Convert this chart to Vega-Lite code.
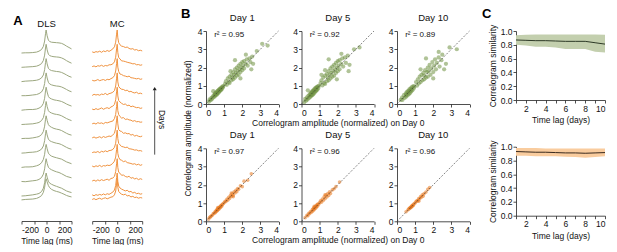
{
"$schema":"https://vega.github.io/schema/vega-lite/v6.json",
"background":"white",
"padding":{"left":12.5,"top":8,"right":0,"bottom":0},
"config":{
 "font":"Liberation Sans",
 "view":{"stroke":null},
 "axis":{"grid":false,"tickSize":3,"labelFontSize":8.5,"titleFontSize":8.5,"titleFontWeight":"normal","domainColor":"#222","tickColor":"#222","labelColor":"#111","titleColor":"#111","labelPadding":1,"titlePadding":3,"domainWidth":0.8,"tickWidth":0.8,"labelFont":"Liberation Sans","titleFont":"Liberation Sans","titleLimit":300}
},
"datasets":{
"diag":[{"x":0,"y":0},{"x":4,"y":4}],
"sim":[
{"g":"D","t":1,"m":0.87,"lo":0.8,"hi":0.94},{"g":"D","t":2,"m":0.865,"lo":0.79,"hi":0.945},{"g":"D","t":3,"m":0.86,"lo":0.77,"hi":0.95},{"g":"D","t":4,"m":0.86,"lo":0.77,"hi":0.95},{"g":"D","t":5,"m":0.855,"lo":0.76,"hi":0.95},{"g":"D","t":6,"m":0.85,"lo":0.74,"hi":0.95},{"g":"D","t":7,"m":0.85,"lo":0.74,"hi":0.95},{"g":"D","t":8,"m":0.85,"lo":0.74,"hi":0.95},{"g":"D","t":9,"m":0.83,"lo":0.7,"hi":0.95},{"g":"D","t":10,"m":0.81,"lo":0.69,"hi":0.945},
{"g":"M","t":1,"m":0.93,"lo":0.87,"hi":0.98},{"g":"M","t":2,"m":0.925,"lo":0.87,"hi":0.98},{"g":"M","t":3,"m":0.92,"lo":0.86,"hi":0.98},{"g":"M","t":4,"m":0.92,"lo":0.86,"hi":0.975},{"g":"M","t":5,"m":0.915,"lo":0.86,"hi":0.975},{"g":"M","t":6,"m":0.91,"lo":0.855,"hi":0.975},{"g":"M","t":7,"m":0.91,"lo":0.85,"hi":0.975},{"g":"M","t":8,"m":0.905,"lo":0.84,"hi":0.975},{"g":"M","t":9,"m":0.91,"lo":0.85,"hi":0.975},{"g":"M","t":10,"m":0.915,"lo":0.86,"hi":0.975}
],
"sc":[
{"g":"D","k":1,"x":0.15,"y":0.12},{"g":"D","k":1,"x":0.2,"y":0.25},{"g":"D","k":1,"x":0.25,"y":0.2},{"g":"D","k":1,"x":0.3,"y":0.33},{"g":"D","k":1,"x":0.32,"y":0.26},{"g":"D","k":1,"x":0.38,"y":0.42},{"g":"D","k":1,"x":0.4,"y":0.35},{"g":"D","k":1,"x":0.45,"y":0.5},{"g":"D","k":1,"x":0.47,"y":0.4},{"g":"D","k":1,"x":0.5,"y":0.58},{"g":"D","k":1,"x":0.52,"y":0.46},{"g":"D","k":1,"x":0.55,"y":0.62},{"g":"D","k":1,"x":0.58,"y":0.5},{"g":"D","k":1,"x":0.6,"y":0.68},{"g":"D","k":1,"x":0.62,"y":0.55},{"g":"D","k":1,"x":0.65,"y":0.72},{"g":"D","k":1,"x":0.68,"y":0.6},{"g":"D","k":1,"x":0.7,"y":0.78},{"g":"D","k":1,"x":0.72,"y":0.66},{"g":"D","k":1,"x":0.75,"y":0.82},{"g":"D","k":1,"x":0.78,"y":0.72},{"g":"D","k":1,"x":0.8,"y":0.86},{"g":"D","k":1,"x":0.82,"y":0.76},{"g":"D","k":1,"x":0.85,"y":0.9},{"g":"D","k":1,"x":0.88,"y":0.82},{"g":"D","k":1,"x":0.9,"y":0.95},{"g":"D","k":1,"x":0.93,"y":0.9},{"g":"D","k":1,"x":0.96,"y":0.98},{"g":"D","k":1,"x":0.6,"y":0.6},{"g":"D","k":1,"x":0.7,"y":0.7},{"g":"D","k":1,"x":0.5,"y":0.52},{"g":"D","k":1,"x":0.8,"y":0.8},
{"g":"D","k":1,"x":1.05,"y":1.1},{"g":"D","k":1,"x":1.1,"y":1.25},{"g":"D","k":1,"x":1.15,"y":1.05},{"g":"D","k":1,"x":1.2,"y":1.4},{"g":"D","k":1,"x":1.25,"y":1.2},{"g":"D","k":1,"x":1.3,"y":1.5},{"g":"D","k":1,"x":1.3,"y":1.15},{"g":"D","k":1,"x":1.4,"y":1.6},{"g":"D","k":1,"x":1.4,"y":1.3},{"g":"D","k":1,"x":1.45,"y":1.45},{"g":"D","k":1,"x":1.5,"y":1.75},{"g":"D","k":1,"x":1.5,"y":1.35},{"g":"D","k":1,"x":1.55,"y":1.6},{"g":"D","k":1,"x":1.6,"y":1.9},{"g":"D","k":1,"x":1.6,"y":1.45},{"g":"D","k":1,"x":1.65,"y":1.7},{"g":"D","k":1,"x":1.7,"y":2.0},{"g":"D","k":1,"x":1.7,"y":1.55},{"g":"D","k":1,"x":1.75,"y":1.8},{"g":"D","k":1,"x":1.8,"y":2.1},{"g":"D","k":1,"x":1.8,"y":1.6},{"g":"D","k":1,"x":1.85,"y":1.9},{"g":"D","k":1,"x":1.9,"y":2.2},{"g":"D","k":1,"x":1.9,"y":1.75},{"g":"D","k":1,"x":1.95,"y":2.0},{"g":"D","k":1,"x":2.0,"y":2.3},{"g":"D","k":1,"x":2.0,"y":1.85},{"g":"D","k":1,"x":2.05,"y":2.1},{"g":"D","k":1,"x":2.1,"y":2.35},{"g":"D","k":1,"x":2.1,"y":1.95},{"g":"D","k":1,"x":2.2,"y":2.2},{"g":"D","k":1,"x":2.25,"y":2.45},{"g":"D","k":1,"x":2.3,"y":2.1},{"g":"D","k":1,"x":2.4,"y":2.5},{"g":"D","k":1,"x":2.45,"y":2.3},{"g":"D","k":1,"x":2.55,"y":2.6},{"g":"D","k":1,"x":1.35,"y":1.8},{"g":"D","k":1,"x":1.9,"y":1.4},{"g":"D","k":1,"x":2.2,"y":2.7},{"g":"D","k":1,"x":2.6,"y":2.2},{"g":"D","k":1,"x":2.8,"y":2.9},{"g":"D","k":1,"x":3.1,"y":3.3},{"g":"D","k":1,"x":0.4,"y":0.7},{"g":"D","k":1,"x":1.6,"y":2.4},{"g":"D","k":1,"x":2.5,"y":1.9},{"g":"D","k":1,"x":3.4,"y":3.2},
{"g":"D","k":5,"x":0.15,"y":0.1},{"g":"D","k":5,"x":0.2,"y":0.28},{"g":"D","k":5,"x":0.25,"y":0.18},{"g":"D","k":5,"x":0.3,"y":0.36},{"g":"D","k":5,"x":0.33,"y":0.24},{"g":"D","k":5,"x":0.38,"y":0.45},{"g":"D","k":5,"x":0.4,"y":0.32},{"g":"D","k":5,"x":0.45,"y":0.53},{"g":"D","k":5,"x":0.48,"y":0.38},{"g":"D","k":5,"x":0.5,"y":0.6},{"g":"D","k":5,"x":0.53,"y":0.44},{"g":"D","k":5,"x":0.55,"y":0.65},{"g":"D","k":5,"x":0.58,"y":0.48},{"g":"D","k":5,"x":0.6,"y":0.7},{"g":"D","k":5,"x":0.63,"y":0.52},{"g":"D","k":5,"x":0.65,"y":0.75},{"g":"D","k":5,"x":0.68,"y":0.57},{"g":"D","k":5,"x":0.7,"y":0.8},{"g":"D","k":5,"x":0.73,"y":0.63},{"g":"D","k":5,"x":0.75,"y":0.85},{"g":"D","k":5,"x":0.78,"y":0.7},{"g":"D","k":5,"x":0.8,"y":0.9},{"g":"D","k":5,"x":0.83,"y":0.74},{"g":"D","k":5,"x":0.85,"y":0.93},{"g":"D","k":5,"x":0.88,"y":0.8},{"g":"D","k":5,"x":0.9,"y":0.97},{"g":"D","k":5,"x":0.93,"y":0.88},{"g":"D","k":5,"x":0.96,"y":1.0},{"g":"D","k":5,"x":0.6,"y":0.6},{"g":"D","k":5,"x":0.7,"y":0.7},{"g":"D","k":5,"x":0.5,"y":0.5},{"g":"D","k":5,"x":0.8,"y":0.8},
{"g":"D","k":5,"x":1.05,"y":1.15},{"g":"D","k":5,"x":1.1,"y":1.3},{"g":"D","k":5,"x":1.15,"y":1.02},{"g":"D","k":5,"x":1.2,"y":1.45},{"g":"D","k":5,"x":1.25,"y":1.15},{"g":"D","k":5,"x":1.3,"y":1.55},{"g":"D","k":5,"x":1.3,"y":1.1},{"g":"D","k":5,"x":1.4,"y":1.65},{"g":"D","k":5,"x":1.4,"y":1.25},{"g":"D","k":5,"x":1.45,"y":1.45},{"g":"D","k":5,"x":1.5,"y":1.8},{"g":"D","k":5,"x":1.5,"y":1.3},{"g":"D","k":5,"x":1.55,"y":1.6},{"g":"D","k":5,"x":1.6,"y":1.95},{"g":"D","k":5,"x":1.6,"y":1.4},{"g":"D","k":5,"x":1.65,"y":1.7},{"g":"D","k":5,"x":1.7,"y":2.05},{"g":"D","k":5,"x":1.7,"y":1.5},{"g":"D","k":5,"x":1.75,"y":1.8},{"g":"D","k":5,"x":1.8,"y":2.15},{"g":"D","k":5,"x":1.8,"y":1.55},{"g":"D","k":5,"x":1.85,"y":1.9},{"g":"D","k":5,"x":1.9,"y":2.25},{"g":"D","k":5,"x":1.9,"y":1.7},{"g":"D","k":5,"x":1.95,"y":2.0},{"g":"D","k":5,"x":2.0,"y":2.35},{"g":"D","k":5,"x":2.0,"y":1.8},{"g":"D","k":5,"x":2.05,"y":2.1},{"g":"D","k":5,"x":2.1,"y":2.4},{"g":"D","k":5,"x":2.1,"y":1.9},{"g":"D","k":5,"x":2.2,"y":2.2},{"g":"D","k":5,"x":2.25,"y":2.5},{"g":"D","k":5,"x":2.3,"y":2.05},{"g":"D","k":5,"x":2.4,"y":2.55},{"g":"D","k":5,"x":2.45,"y":2.25},{"g":"D","k":5,"x":2.55,"y":2.65},{"g":"D","k":5,"x":1.3,"y":1.85},{"g":"D","k":5,"x":1.95,"y":1.35},{"g":"D","k":5,"x":2.2,"y":2.75},{"g":"D","k":5,"x":2.65,"y":2.15},{"g":"D","k":5,"x":2.9,"y":3.0},{"g":"D","k":5,"x":3.2,"y":3.1},{"g":"D","k":5,"x":0.35,"y":0.75},{"g":"D","k":5,"x":1.5,"y":2.45},{"g":"D","k":5,"x":2.6,"y":1.8},{"g":"D","k":5,"x":1.1,"y":1.6},
{"g":"D","k":10,"x":0.2,"y":0.22},{"g":"D","k":10,"x":0.28,"y":0.35},{"g":"D","k":10,"x":0.3,"y":0.22},{"g":"D","k":10,"x":0.38,"y":0.48},{"g":"D","k":10,"x":0.42,"y":0.33},{"g":"D","k":10,"x":0.48,"y":0.58},{"g":"D","k":10,"x":0.5,"y":0.4},{"g":"D","k":10,"x":0.55,"y":0.66},{"g":"D","k":10,"x":0.58,"y":0.47},{"g":"D","k":10,"x":0.62,"y":0.72},{"g":"D","k":10,"x":0.65,"y":0.54},{"g":"D","k":10,"x":0.68,"y":0.8},{"g":"D","k":10,"x":0.72,"y":0.6},{"g":"D","k":10,"x":0.75,"y":0.86},{"g":"D","k":10,"x":0.78,"y":0.68},{"g":"D","k":10,"x":0.82,"y":0.92},{"g":"D","k":10,"x":0.85,"y":0.75},{"g":"D","k":10,"x":0.9,"y":0.98},{"g":"D","k":10,"x":0.92,"y":0.85},{"g":"D","k":10,"x":0.6,"y":0.6},{"g":"D","k":10,"x":0.7,"y":0.7},{"g":"D","k":10,"x":0.8,"y":0.8},{"g":"D","k":10,"x":0.5,"y":0.5},{"g":"D","k":10,"x":0.95,"y":0.95},
{"g":"D","k":10,"x":1.05,"y":1.2},{"g":"D","k":10,"x":1.1,"y":1.0},{"g":"D","k":10,"x":1.15,"y":1.35},{"g":"D","k":10,"x":1.2,"y":1.12},{"g":"D","k":10,"x":1.25,"y":1.5},{"g":"D","k":10,"x":1.3,"y":1.2},{"g":"D","k":10,"x":1.35,"y":1.6},{"g":"D","k":10,"x":1.4,"y":1.3},{"g":"D","k":10,"x":1.45,"y":1.7},{"g":"D","k":10,"x":1.5,"y":1.35},{"g":"D","k":10,"x":1.5,"y":1.55},{"g":"D","k":10,"x":1.55,"y":1.85},{"g":"D","k":10,"x":1.6,"y":1.45},{"g":"D","k":10,"x":1.65,"y":1.75},{"g":"D","k":10,"x":1.7,"y":2.0},{"g":"D","k":10,"x":1.7,"y":1.5},{"g":"D","k":10,"x":1.75,"y":1.8},{"g":"D","k":10,"x":1.8,"y":2.15},{"g":"D","k":10,"x":1.85,"y":1.6},{"g":"D","k":10,"x":1.9,"y":1.95},{"g":"D","k":10,"x":1.95,"y":2.3},{"g":"D","k":10,"x":2.0,"y":1.75},{"g":"D","k":10,"x":2.05,"y":2.1},{"g":"D","k":10,"x":2.1,"y":2.45},{"g":"D","k":10,"x":2.15,"y":1.9},{"g":"D","k":10,"x":2.2,"y":2.25},{"g":"D","k":10,"x":2.3,"y":2.55},{"g":"D","k":10,"x":2.35,"y":2.05},{"g":"D","k":10,"x":2.45,"y":2.4},{"g":"D","k":10,"x":2.5,"y":2.7},{"g":"D","k":10,"x":1.3,"y":1.9},{"g":"D","k":10,"x":2.0,"y":1.4},{"g":"D","k":10,"x":2.3,"y":2.85},{"g":"D","k":10,"x":2.7,"y":2.2},{"g":"D","k":10,"x":2.9,"y":3.1},{"g":"D","k":10,"x":3.3,"y":3.0},{"g":"D","k":10,"x":1.6,"y":2.5},{"g":"D","k":10,"x":2.6,"y":1.9},
{"g":"M","k":1,"x":0.15,"y":0.12},{"g":"M","k":1,"x":0.2,"y":0.22},{"g":"M","k":1,"x":0.25,"y":0.24},{"g":"M","k":1,"x":0.3,"y":0.3},{"g":"M","k":1,"x":0.35,"y":0.33},{"g":"M","k":1,"x":0.4,"y":0.42},{"g":"M","k":1,"x":0.45,"y":0.44},{"g":"M","k":1,"x":0.5,"y":0.52},{"g":"M","k":1,"x":0.52,"y":0.47},{"g":"M","k":1,"x":0.55,"y":0.58},{"g":"M","k":1,"x":0.58,"y":0.55},{"g":"M","k":1,"x":0.6,"y":0.64},{"g":"M","k":1,"x":0.62,"y":0.58},{"g":"M","k":1,"x":0.65,"y":0.68},{"g":"M","k":1,"x":0.68,"y":0.64},{"g":"M","k":1,"x":0.7,"y":0.74},{"g":"M","k":1,"x":0.72,"y":0.68},{"g":"M","k":1,"x":0.75,"y":0.78},{"g":"M","k":1,"x":0.78,"y":0.74},{"g":"M","k":1,"x":0.8,"y":0.84},{"g":"M","k":1,"x":0.82,"y":0.78},{"g":"M","k":1,"x":0.85,"y":0.88},{"g":"M","k":1,"x":0.88,"y":0.84},{"g":"M","k":1,"x":0.9,"y":0.93},{"g":"M","k":1,"x":0.95,"y":0.96},{"g":"M","k":1,"x":1.0,"y":1.02},{"g":"M","k":1,"x":1.05,"y":1.1},{"g":"M","k":1,"x":1.1,"y":1.08},{"g":"M","k":1,"x":1.15,"y":1.2},{"g":"M","k":1,"x":1.2,"y":1.16},{"g":"M","k":1,"x":1.25,"y":1.32},{"g":"M","k":1,"x":1.3,"y":1.25},{"g":"M","k":1,"x":1.35,"y":1.42},{"g":"M","k":1,"x":1.4,"y":1.36},{"g":"M","k":1,"x":1.45,"y":1.5},{"g":"M","k":1,"x":1.5,"y":1.42},{"g":"M","k":1,"x":1.55,"y":1.62},{"g":"M","k":1,"x":1.6,"y":1.55},{"g":"M","k":1,"x":1.65,"y":1.7},{"g":"M","k":1,"x":1.7,"y":1.62},{"g":"M","k":1,"x":1.75,"y":1.8},{"g":"M","k":1,"x":1.8,"y":1.75},{"g":"M","k":1,"x":1.9,"y":1.95},{"g":"M","k":1,"x":2.0,"y":1.9},{"g":"M","k":1,"x":2.1,"y":2.2},{"g":"M","k":1,"x":2.3,"y":2.25},{"g":"M","k":1,"x":1.4,"y":1.55},{"g":"M","k":1,"x":1.5,"y":1.35},{"g":"M","k":1,"x":0.65,"y":0.75},{"g":"M","k":1,"x":2.5,"y":2.6},
{"g":"M","k":5,"x":0.2,"y":0.2},{"g":"M","k":5,"x":0.3,"y":0.33},{"g":"M","k":5,"x":0.35,"y":0.3},{"g":"M","k":5,"x":0.4,"y":0.44},{"g":"M","k":5,"x":0.45,"y":0.42},{"g":"M","k":5,"x":0.5,"y":0.54},{"g":"M","k":5,"x":0.55,"y":0.5},{"g":"M","k":5,"x":0.6,"y":0.65},{"g":"M","k":5,"x":0.62,"y":0.57},{"g":"M","k":5,"x":0.65,"y":0.7},{"g":"M","k":5,"x":0.68,"y":0.62},{"g":"M","k":5,"x":0.7,"y":0.75},{"g":"M","k":5,"x":0.72,"y":0.68},{"g":"M","k":5,"x":0.75,"y":0.8},{"g":"M","k":5,"x":0.78,"y":0.72},{"g":"M","k":5,"x":0.8,"y":0.85},{"g":"M","k":5,"x":0.82,"y":0.78},{"g":"M","k":5,"x":0.85,"y":0.9},{"g":"M","k":5,"x":0.88,"y":0.83},{"g":"M","k":5,"x":0.9,"y":0.95},{"g":"M","k":5,"x":0.95,"y":0.93},{"g":"M","k":5,"x":1.0,"y":1.03},{"g":"M","k":5,"x":1.05,"y":1.12},{"g":"M","k":5,"x":1.1,"y":1.05},{"g":"M","k":5,"x":1.15,"y":1.22},{"g":"M","k":5,"x":1.2,"y":1.14},{"g":"M","k":5,"x":1.25,"y":1.34},{"g":"M","k":5,"x":1.3,"y":1.24},{"g":"M","k":5,"x":1.35,"y":1.44},{"g":"M","k":5,"x":1.4,"y":1.33},{"g":"M","k":5,"x":1.45,"y":1.52},{"g":"M","k":5,"x":1.5,"y":1.42},{"g":"M","k":5,"x":1.55,"y":1.62},{"g":"M","k":5,"x":1.6,"y":1.52},{"g":"M","k":5,"x":1.7,"y":1.72},{"g":"M","k":5,"x":1.8,"y":1.78},{"g":"M","k":5,"x":1.9,"y":1.9},{"g":"M","k":5,"x":1.3,"y":1.45},{"g":"M","k":5,"x":0.7,"y":0.82},{"g":"M","k":5,"x":2.1,"y":2.15},
{"g":"M","k":10,"x":0.6,"y":0.62},{"g":"M","k":10,"x":0.65,"y":0.68},{"g":"M","k":10,"x":0.7,"y":0.7},{"g":"M","k":10,"x":0.72,"y":0.76},{"g":"M","k":10,"x":0.75,"y":0.74},{"g":"M","k":10,"x":0.78,"y":0.8},{"g":"M","k":10,"x":0.8,"y":0.78},{"g":"M","k":10,"x":0.82,"y":0.85},{"g":"M","k":10,"x":0.85,"y":0.83},{"g":"M","k":10,"x":0.88,"y":0.9},{"g":"M","k":10,"x":0.9,"y":0.88},{"g":"M","k":10,"x":0.95,"y":0.97},{"g":"M","k":10,"x":1.0,"y":1.0},{"g":"M","k":10,"x":1.05,"y":1.08},{"g":"M","k":10,"x":1.1,"y":1.12},{"g":"M","k":10,"x":1.15,"y":1.13},{"g":"M","k":10,"x":1.2,"y":1.25},{"g":"M","k":10,"x":1.25,"y":1.22},{"g":"M","k":10,"x":1.3,"y":1.35},{"g":"M","k":10,"x":1.35,"y":1.32},{"g":"M","k":10,"x":1.4,"y":1.45},{"g":"M","k":10,"x":1.5,"y":1.52},{"g":"M","k":10,"x":1.6,"y":1.6},{"g":"M","k":10,"x":1.7,"y":1.75},{"g":"M","k":10,"x":0.5,"y":0.52},{"g":"M","k":10,"x":1.2,"y":1.1},{"g":"M","k":10,"x":1.45,"y":1.38},{"g":"M","k":10,"x":1.8,"y":1.85}
],
"tr":[
{"g":"D","d":1,"t":-200,"v":0},{"g":"D","d":1,"t":-170,"v":0.02},{"g":"D","d":1,"t":-140,"v":0.03},{"g":"D","d":1,"t":-110,"v":0.04},{"g":"D","d":1,"t":-80,"v":0.07},{"g":"D","d":1,"t":-60,"v":0.12},{"g":"D","d":1,"t":-40,"v":0.2},{"g":"D","d":1,"t":-25,"v":0.36},{"g":"D","d":1,"t":-15,"v":0.6},{"g":"D","d":1,"t":-8,"v":0.88},{"g":"D","d":1,"t":-3,"v":1},{"g":"D","d":1,"t":5,"v":0.85},{"g":"D","d":1,"t":15,"v":0.68},{"g":"D","d":1,"t":25,"v":0.58},{"g":"D","d":1,"t":40,"v":0.5},{"g":"D","d":1,"t":60,"v":0.44},{"g":"D","d":1,"t":80,"v":0.4},{"g":"D","d":1,"t":100,"v":0.37},{"g":"D","d":1,"t":120,"v":0.32},{"g":"D","d":1,"t":140,"v":0.27},{"g":"D","d":1,"t":160,"v":0.21},{"g":"D","d":1,"t":180,"v":0.17},{"g":"D","d":1,"t":200,"v":0.14},
{"g":"D","d":2,"t":-200,"v":0},{"g":"D","d":2,"t":-170,"v":0.01},{"g":"D","d":2,"t":-140,"v":0.03},{"g":"D","d":2,"t":-110,"v":0.05},{"g":"D","d":2,"t":-80,"v":0.08},{"g":"D","d":2,"t":-60,"v":0.11},{"g":"D","d":2,"t":-40,"v":0.19},{"g":"D","d":2,"t":-25,"v":0.34},{"g":"D","d":2,"t":-15,"v":0.58},{"g":"D","d":2,"t":-8,"v":0.86},{"g":"D","d":2,"t":-3,"v":1},{"g":"D","d":2,"t":5,"v":0.82},{"g":"D","d":2,"t":15,"v":0.64},{"g":"D","d":2,"t":25,"v":0.56},{"g":"D","d":2,"t":40,"v":0.51},{"g":"D","d":2,"t":60,"v":0.46},{"g":"D","d":2,"t":80,"v":0.42},{"g":"D","d":2,"t":100,"v":0.38},{"g":"D","d":2,"t":120,"v":0.34},{"g":"D","d":2,"t":140,"v":0.28},{"g":"D","d":2,"t":160,"v":0.22},{"g":"D","d":2,"t":180,"v":0.18},{"g":"D","d":2,"t":200,"v":0.15},
{"g":"D","d":3,"t":-200,"v":0.01},{"g":"D","d":3,"t":-170,"v":0},{"g":"D","d":3,"t":-140,"v":0.02},{"g":"D","d":3,"t":-110,"v":0.04},{"g":"D","d":3,"t":-80,"v":0.06},{"g":"D","d":3,"t":-60,"v":0.1},{"g":"D","d":3,"t":-40,"v":0.18},{"g":"D","d":3,"t":-25,"v":0.33},{"g":"D","d":3,"t":-15,"v":0.56},{"g":"D","d":3,"t":-8,"v":0.85},{"g":"D","d":3,"t":-3,"v":1},{"g":"D","d":3,"t":5,"v":0.8},{"g":"D","d":3,"t":15,"v":0.63},{"g":"D","d":3,"t":25,"v":0.57},{"g":"D","d":3,"t":40,"v":0.52},{"g":"D","d":3,"t":60,"v":0.47},{"g":"D","d":3,"t":80,"v":0.43},{"g":"D","d":3,"t":100,"v":0.4},{"g":"D","d":3,"t":120,"v":0.35},{"g":"D","d":3,"t":140,"v":0.29},{"g":"D","d":3,"t":160,"v":0.23},{"g":"D","d":3,"t":180,"v":0.2},{"g":"D","d":3,"t":200,"v":0.17},
{"g":"D","d":4,"t":-200,"v":0},{"g":"D","d":4,"t":-170,"v":0.02},{"g":"D","d":4,"t":-140,"v":0.02},{"g":"D","d":4,"t":-110,"v":0.03},{"g":"D","d":4,"t":-80,"v":0.07},{"g":"D","d":4,"t":-60,"v":0.11},{"g":"D","d":4,"t":-40,"v":0.2},{"g":"D","d":4,"t":-25,"v":0.35},{"g":"D","d":4,"t":-15,"v":0.57},{"g":"D","d":4,"t":-8,"v":0.87},{"g":"D","d":4,"t":-3,"v":1},{"g":"D","d":4,"t":5,"v":0.81},{"g":"D","d":4,"t":15,"v":0.62},{"g":"D","d":4,"t":25,"v":0.55},{"g":"D","d":4,"t":40,"v":0.49},{"g":"D","d":4,"t":60,"v":0.45},{"g":"D","d":4,"t":80,"v":0.42},{"g":"D","d":4,"t":100,"v":0.39},{"g":"D","d":4,"t":120,"v":0.36},{"g":"D","d":4,"t":140,"v":0.3},{"g":"D","d":4,"t":160,"v":0.24},{"g":"D","d":4,"t":180,"v":0.2},{"g":"D","d":4,"t":200,"v":0.16},
{"g":"D","d":5,"t":-200,"v":0},{"g":"D","d":5,"t":-170,"v":0.01},{"g":"D","d":5,"t":-140,"v":0.03},{"g":"D","d":5,"t":-110,"v":0.04},{"g":"D","d":5,"t":-80,"v":0.06},{"g":"D","d":5,"t":-60,"v":0.1},{"g":"D","d":5,"t":-40,"v":0.17},{"g":"D","d":5,"t":-25,"v":0.31},{"g":"D","d":5,"t":-15,"v":0.54},{"g":"D","d":5,"t":-8,"v":0.84},{"g":"D","d":5,"t":-3,"v":1},{"g":"D","d":5,"t":5,"v":0.79},{"g":"D","d":5,"t":15,"v":0.61},{"g":"D","d":5,"t":25,"v":0.54},{"g":"D","d":5,"t":40,"v":0.5},{"g":"D","d":5,"t":60,"v":0.46},{"g":"D","d":5,"t":80,"v":0.43},{"g":"D","d":5,"t":100,"v":0.41},{"g":"D","d":5,"t":120,"v":0.37},{"g":"D","d":5,"t":140,"v":0.31},{"g":"D","d":5,"t":160,"v":0.25},{"g":"D","d":5,"t":180,"v":0.2},{"g":"D","d":5,"t":200,"v":0.17},
{"g":"D","d":6,"t":-200,"v":0.01},{"g":"D","d":6,"t":-170,"v":0.02},{"g":"D","d":6,"t":-140,"v":0.02},{"g":"D","d":6,"t":-110,"v":0.04},{"g":"D","d":6,"t":-80,"v":0.07},{"g":"D","d":6,"t":-60,"v":0.1},{"g":"D","d":6,"t":-40,"v":0.18},{"g":"D","d":6,"t":-25,"v":0.32},{"g":"D","d":6,"t":-15,"v":0.55},{"g":"D","d":6,"t":-8,"v":0.85},{"g":"D","d":6,"t":-3,"v":1},{"g":"D","d":6,"t":5,"v":0.8},{"g":"D","d":6,"t":15,"v":0.62},{"g":"D","d":6,"t":25,"v":0.55},{"g":"D","d":6,"t":40,"v":0.5},{"g":"D","d":6,"t":60,"v":0.45},{"g":"D","d":6,"t":80,"v":0.42},{"g":"D","d":6,"t":100,"v":0.4},{"g":"D","d":6,"t":120,"v":0.36},{"g":"D","d":6,"t":140,"v":0.3},{"g":"D","d":6,"t":160,"v":0.24},{"g":"D","d":6,"t":180,"v":0.19},{"g":"D","d":6,"t":200,"v":0.16},
{"g":"D","d":7,"t":-200,"v":0},{"g":"D","d":7,"t":-170,"v":0.01},{"g":"D","d":7,"t":-140,"v":0.02},{"g":"D","d":7,"t":-110,"v":0.03},{"g":"D","d":7,"t":-80,"v":0.06},{"g":"D","d":7,"t":-60,"v":0.09},{"g":"D","d":7,"t":-40,"v":0.17},{"g":"D","d":7,"t":-25,"v":0.3},{"g":"D","d":7,"t":-15,"v":0.53},{"g":"D","d":7,"t":-8,"v":0.83},{"g":"D","d":7,"t":-3,"v":1},{"g":"D","d":7,"t":5,"v":0.78},{"g":"D","d":7,"t":15,"v":0.6},{"g":"D","d":7,"t":25,"v":0.54},{"g":"D","d":7,"t":40,"v":0.5},{"g":"D","d":7,"t":60,"v":0.46},{"g":"D","d":7,"t":80,"v":0.44},{"g":"D","d":7,"t":100,"v":0.42},{"g":"D","d":7,"t":120,"v":0.38},{"g":"D","d":7,"t":140,"v":0.32},{"g":"D","d":7,"t":160,"v":0.26},{"g":"D","d":7,"t":180,"v":0.21},{"g":"D","d":7,"t":200,"v":0.17},
{"g":"D","d":8,"t":-200,"v":0},{"g":"D","d":8,"t":-170,"v":0.02},{"g":"D","d":8,"t":-140,"v":0.03},{"g":"D","d":8,"t":-110,"v":0.03},{"g":"D","d":8,"t":-80,"v":0.05},{"g":"D","d":8,"t":-60,"v":0.09},{"g":"D","d":8,"t":-40,"v":0.16},{"g":"D","d":8,"t":-25,"v":0.3},{"g":"D","d":8,"t":-15,"v":0.52},{"g":"D","d":8,"t":-8,"v":0.84},{"g":"D","d":8,"t":-3,"v":1},{"g":"D","d":8,"t":5,"v":0.79},{"g":"D","d":8,"t":15,"v":0.6},{"g":"D","d":8,"t":25,"v":0.53},{"g":"D","d":8,"t":40,"v":0.49},{"g":"D","d":8,"t":60,"v":0.45},{"g":"D","d":8,"t":80,"v":0.43},{"g":"D","d":8,"t":100,"v":0.41},{"g":"D","d":8,"t":120,"v":0.38},{"g":"D","d":8,"t":140,"v":0.33},{"g":"D","d":8,"t":160,"v":0.27},{"g":"D","d":8,"t":180,"v":0.22},{"g":"D","d":8,"t":200,"v":0.18},
{"g":"D","d":9,"t":-200,"v":0.01},{"g":"D","d":9,"t":-170,"v":0.01},{"g":"D","d":9,"t":-140,"v":0.02},{"g":"D","d":9,"t":-110,"v":0.04},{"g":"D","d":9,"t":-80,"v":0.06},{"g":"D","d":9,"t":-60,"v":0.1},{"g":"D","d":9,"t":-40,"v":0.17},{"g":"D","d":9,"t":-25,"v":0.31},{"g":"D","d":9,"t":-15,"v":0.54},{"g":"D","d":9,"t":-8,"v":0.85},{"g":"D","d":9,"t":-3,"v":1},{"g":"D","d":9,"t":5,"v":0.78},{"g":"D","d":9,"t":15,"v":0.59},{"g":"D","d":9,"t":25,"v":0.52},{"g":"D","d":9,"t":40,"v":0.48},{"g":"D","d":9,"t":60,"v":0.45},{"g":"D","d":9,"t":80,"v":0.43},{"g":"D","d":9,"t":100,"v":0.42},{"g":"D","d":9,"t":120,"v":0.39},{"g":"D","d":9,"t":140,"v":0.34},{"g":"D","d":9,"t":160,"v":0.28},{"g":"D","d":9,"t":180,"v":0.22},{"g":"D","d":9,"t":200,"v":0.18},
{"g":"D","d":10,"t":-200,"v":0},{"g":"D","d":10,"t":-170,"v":0.02},{"g":"D","d":10,"t":-140,"v":0.03},{"g":"D","d":10,"t":-110,"v":0.04},{"g":"D","d":10,"t":-80,"v":0.06},{"g":"D","d":10,"t":-60,"v":0.09},{"g":"D","d":10,"t":-40,"v":0.16},{"g":"D","d":10,"t":-25,"v":0.29},{"g":"D","d":10,"t":-15,"v":0.52},{"g":"D","d":10,"t":-8,"v":0.83},{"g":"D","d":10,"t":-3,"v":1},{"g":"D","d":10,"t":5,"v":0.77},{"g":"D","d":10,"t":15,"v":0.58},{"g":"D","d":10,"t":25,"v":0.52},{"g":"D","d":10,"t":40,"v":0.48},{"g":"D","d":10,"t":60,"v":0.46},{"g":"D","d":10,"t":80,"v":0.44},{"g":"D","d":10,"t":100,"v":0.43},{"g":"D","d":10,"t":120,"v":0.4},{"g":"D","d":10,"t":140,"v":0.35},{"g":"D","d":10,"t":160,"v":0.29},{"g":"D","d":10,"t":180,"v":0.23},{"g":"D","d":10,"t":200,"v":0.19},
{"g":"D","d":11,"t":-200,"v":0},{"g":"D","d":11,"t":-170,"v":0.01},{"g":"D","d":11,"t":-140,"v":0.02},{"g":"D","d":11,"t":-110,"v":0.03},{"g":"D","d":11,"t":-80,"v":0.05},{"g":"D","d":11,"t":-60,"v":0.09},{"g":"D","d":11,"t":-40,"v":0.16},{"g":"D","d":11,"t":-25,"v":0.3},{"g":"D","d":11,"t":-15,"v":0.53},{"g":"D","d":11,"t":-8,"v":0.84},{"g":"D","d":11,"t":-3,"v":1},{"g":"D","d":11,"t":5,"v":0.76},{"g":"D","d":11,"t":15,"v":0.57},{"g":"D","d":11,"t":25,"v":0.51},{"g":"D","d":11,"t":40,"v":0.48},{"g":"D","d":11,"t":60,"v":0.46},{"g":"D","d":11,"t":80,"v":0.45},{"g":"D","d":11,"t":100,"v":0.44},{"g":"D","d":11,"t":120,"v":0.41},{"g":"D","d":11,"t":140,"v":0.36},{"g":"D","d":11,"t":160,"v":0.29},{"g":"D","d":11,"t":180,"v":0.23},{"g":"D","d":11,"t":200,"v":0.18},
{"g":"D","d":12,"t":-200,"v":0},{"g":"D","d":12,"t":-170,"v":0.01},{"g":"D","d":12,"t":-140,"v":0.01},{"g":"D","d":12,"t":-110,"v":0.02},{"g":"D","d":12,"t":-80,"v":0.04},{"g":"D","d":12,"t":-60,"v":0.08},{"g":"D","d":12,"t":-40,"v":0.15},{"g":"D","d":12,"t":-25,"v":0.29},{"g":"D","d":12,"t":-15,"v":0.52},{"g":"D","d":12,"t":-8,"v":0.84},{"g":"D","d":12,"t":-3,"v":1},{"g":"D","d":12,"t":5,"v":0.75},{"g":"D","d":12,"t":15,"v":0.56},{"g":"D","d":12,"t":25,"v":0.5},{"g":"D","d":12,"t":40,"v":0.47},{"g":"D","d":12,"t":60,"v":0.46},{"g":"D","d":12,"t":80,"v":0.45},{"g":"D","d":12,"t":100,"v":0.44},{"g":"D","d":12,"t":120,"v":0.42},{"g":"D","d":12,"t":140,"v":0.37},{"g":"D","d":12,"t":160,"v":0.3},{"g":"D","d":12,"t":180,"v":0.24},{"g":"D","d":12,"t":200,"v":0.18},
{"g":"M","d":1,"t":-200,"v":0.02},{"g":"M","d":1,"t":-185,"v":0.06},{"g":"M","d":1,"t":-170,"v":0.01},{"g":"M","d":1,"t":-155,"v":0.05},{"g":"M","d":1,"t":-140,"v":0.08},{"g":"M","d":1,"t":-125,"v":0.03},{"g":"M","d":1,"t":-110,"v":0.07},{"g":"M","d":1,"t":-95,"v":0.1},{"g":"M","d":1,"t":-80,"v":0.05},{"g":"M","d":1,"t":-65,"v":0.09},{"g":"M","d":1,"t":-50,"v":0.13},{"g":"M","d":1,"t":-35,"v":0.15},{"g":"M","d":1,"t":-22,"v":0.24},{"g":"M","d":1,"t":-12,"v":0.42},{"g":"M","d":1,"t":-5,"v":0.75},{"g":"M","d":1,"t":0,"v":1},{"g":"M","d":1,"t":5,"v":0.6},{"g":"M","d":1,"t":12,"v":0.4},{"g":"M","d":1,"t":22,"v":0.33},{"g":"M","d":1,"t":35,"v":0.27},{"g":"M","d":1,"t":50,"v":0.24},{"g":"M","d":1,"t":65,"v":0.27},{"g":"M","d":1,"t":80,"v":0.19},{"g":"M","d":1,"t":95,"v":0.21},{"g":"M","d":1,"t":110,"v":0.14},{"g":"M","d":1,"t":125,"v":0.17},{"g":"M","d":1,"t":140,"v":0.11},{"g":"M","d":1,"t":155,"v":0.13},{"g":"M","d":1,"t":170,"v":0.08},{"g":"M","d":1,"t":185,"v":0.11},{"g":"M","d":1,"t":200,"v":0.09},
{"g":"M","d":2,"t":-200,"v":0.05},{"g":"M","d":2,"t":-185,"v":0.01},{"g":"M","d":2,"t":-170,"v":0.06},{"g":"M","d":2,"t":-155,"v":0.03},{"g":"M","d":2,"t":-140,"v":0.07},{"g":"M","d":2,"t":-125,"v":0.04},{"g":"M","d":2,"t":-110,"v":0.09},{"g":"M","d":2,"t":-95,"v":0.05},{"g":"M","d":2,"t":-80,"v":0.1},{"g":"M","d":2,"t":-65,"v":0.07},{"g":"M","d":2,"t":-50,"v":0.12},{"g":"M","d":2,"t":-35,"v":0.17},{"g":"M","d":2,"t":-22,"v":0.26},{"g":"M","d":2,"t":-12,"v":0.46},{"g":"M","d":2,"t":-5,"v":0.8},{"g":"M","d":2,"t":0,"v":1},{"g":"M","d":2,"t":5,"v":0.64},{"g":"M","d":2,"t":12,"v":0.43},{"g":"M","d":2,"t":22,"v":0.35},{"g":"M","d":2,"t":35,"v":0.3},{"g":"M","d":2,"t":50,"v":0.26},{"g":"M","d":2,"t":65,"v":0.22},{"g":"M","d":2,"t":80,"v":0.25},{"g":"M","d":2,"t":95,"v":0.18},{"g":"M","d":2,"t":110,"v":0.2},{"g":"M","d":2,"t":125,"v":0.13},{"g":"M","d":2,"t":140,"v":0.16},{"g":"M","d":2,"t":155,"v":0.1},{"g":"M","d":2,"t":170,"v":0.12},{"g":"M","d":2,"t":185,"v":0.08},{"g":"M","d":2,"t":200,"v":0.1},
{"g":"M","d":3,"t":-200,"v":0.03},{"g":"M","d":3,"t":-185,"v":0.07},{"g":"M","d":3,"t":-170,"v":0.02},{"g":"M","d":3,"t":-155,"v":0.08},{"g":"M","d":3,"t":-140,"v":0.04},{"g":"M","d":3,"t":-125,"v":0.09},{"g":"M","d":3,"t":-110,"v":0.05},{"g":"M","d":3,"t":-95,"v":0.08},{"g":"M","d":3,"t":-80,"v":0.11},{"g":"M","d":3,"t":-65,"v":0.06},{"g":"M","d":3,"t":-50,"v":0.14},{"g":"M","d":3,"t":-35,"v":0.16},{"g":"M","d":3,"t":-22,"v":0.23},{"g":"M","d":3,"t":-12,"v":0.44},{"g":"M","d":3,"t":-5,"v":0.78},{"g":"M","d":3,"t":0,"v":1},{"g":"M","d":3,"t":5,"v":0.62},{"g":"M","d":3,"t":12,"v":0.41},{"g":"M","d":3,"t":22,"v":0.37},{"g":"M","d":3,"t":35,"v":0.28},{"g":"M","d":3,"t":50,"v":0.29},{"g":"M","d":3,"t":65,"v":0.23},{"g":"M","d":3,"t":80,"v":0.2},{"g":"M","d":3,"t":95,"v":0.24},{"g":"M","d":3,"t":110,"v":0.15},{"g":"M","d":3,"t":125,"v":0.18},{"g":"M","d":3,"t":140,"v":0.12},{"g":"M","d":3,"t":155,"v":0.15},{"g":"M","d":3,"t":170,"v":0.09},{"g":"M","d":3,"t":185,"v":0.13},{"g":"M","d":3,"t":200,"v":0.1},
{"g":"M","d":4,"t":-200,"v":0.06},{"g":"M","d":4,"t":-185,"v":0.02},{"g":"M","d":4,"t":-170,"v":0.07},{"g":"M","d":4,"t":-155,"v":0.04},{"g":"M","d":4,"t":-140,"v":0.09},{"g":"M","d":4,"t":-125,"v":0.03},{"g":"M","d":4,"t":-110,"v":0.08},{"g":"M","d":4,"t":-95,"v":0.06},{"g":"M","d":4,"t":-80,"v":0.1},{"g":"M","d":4,"t":-65,"v":0.08},{"g":"M","d":4,"t":-50,"v":0.11},{"g":"M","d":4,"t":-35,"v":0.18},{"g":"M","d":4,"t":-22,"v":0.27},{"g":"M","d":4,"t":-12,"v":0.45},{"g":"M","d":4,"t":-5,"v":0.77},{"g":"M","d":4,"t":0,"v":1},{"g":"M","d":4,"t":5,"v":0.61},{"g":"M","d":4,"t":12,"v":0.44},{"g":"M","d":4,"t":22,"v":0.34},{"g":"M","d":4,"t":35,"v":0.31},{"g":"M","d":4,"t":50,"v":0.25},{"g":"M","d":4,"t":65,"v":0.28},{"g":"M","d":4,"t":80,"v":0.21},{"g":"M","d":4,"t":95,"v":0.19},{"g":"M","d":4,"t":110,"v":0.17},{"g":"M","d":4,"t":125,"v":0.14},{"g":"M","d":4,"t":140,"v":0.16},{"g":"M","d":4,"t":155,"v":0.11},{"g":"M","d":4,"t":170,"v":0.14},{"g":"M","d":4,"t":185,"v":0.09},{"g":"M","d":4,"t":200,"v":0.12},
{"g":"M","d":5,"t":-200,"v":0.02},{"g":"M","d":5,"t":-185,"v":0.05},{"g":"M","d":5,"t":-170,"v":0.03},{"g":"M","d":5,"t":-155,"v":0.07},{"g":"M","d":5,"t":-140,"v":0.02},{"g":"M","d":5,"t":-125,"v":0.08},{"g":"M","d":5,"t":-110,"v":0.05},{"g":"M","d":5,"t":-95,"v":0.1},{"g":"M","d":5,"t":-80,"v":0.06},{"g":"M","d":5,"t":-65,"v":0.11},{"g":"M","d":5,"t":-50,"v":0.12},{"g":"M","d":5,"t":-35,"v":0.16},{"g":"M","d":5,"t":-22,"v":0.25},{"g":"M","d":5,"t":-12,"v":0.43},{"g":"M","d":5,"t":-5,"v":0.79},{"g":"M","d":5,"t":0,"v":1},{"g":"M","d":5,"t":5,"v":0.63},{"g":"M","d":5,"t":12,"v":0.42},{"g":"M","d":5,"t":22,"v":0.36},{"g":"M","d":5,"t":35,"v":0.29},{"g":"M","d":5,"t":50,"v":0.27},{"g":"M","d":5,"t":65,"v":0.24},{"g":"M","d":5,"t":80,"v":0.26},{"g":"M","d":5,"t":95,"v":0.19},{"g":"M","d":5,"t":110,"v":0.18},{"g":"M","d":5,"t":125,"v":0.16},{"g":"M","d":5,"t":140,"v":0.13},{"g":"M","d":5,"t":155,"v":0.14},{"g":"M","d":5,"t":170,"v":0.1},{"g":"M","d":5,"t":185,"v":0.11},{"g":"M","d":5,"t":200,"v":0.08},
{"g":"M","d":6,"t":-200,"v":0.04},{"g":"M","d":6,"t":-185,"v":0.08},{"g":"M","d":6,"t":-170,"v":0.03},{"g":"M","d":6,"t":-155,"v":0.06},{"g":"M","d":6,"t":-140,"v":0.09},{"g":"M","d":6,"t":-125,"v":0.04},{"g":"M","d":6,"t":-110,"v":0.1},{"g":"M","d":6,"t":-95,"v":0.06},{"g":"M","d":6,"t":-80,"v":0.09},{"g":"M","d":6,"t":-65,"v":0.12},{"g":"M","d":6,"t":-50,"v":0.1},{"g":"M","d":6,"t":-35,"v":0.17},{"g":"M","d":6,"t":-22,"v":0.24},{"g":"M","d":6,"t":-12,"v":0.47},{"g":"M","d":6,"t":-5,"v":0.81},{"g":"M","d":6,"t":0,"v":1},{"g":"M","d":6,"t":5,"v":0.65},{"g":"M","d":6,"t":12,"v":0.4},{"g":"M","d":6,"t":22,"v":0.34},{"g":"M","d":6,"t":35,"v":0.32},{"g":"M","d":6,"t":50,"v":0.24},{"g":"M","d":6,"t":65,"v":0.26},{"g":"M","d":6,"t":80,"v":0.22},{"g":"M","d":6,"t":95,"v":0.23},{"g":"M","d":6,"t":110,"v":0.16},{"g":"M","d":6,"t":125,"v":0.19},{"g":"M","d":6,"t":140,"v":0.12},{"g":"M","d":6,"t":155,"v":0.15},{"g":"M","d":6,"t":170,"v":0.11},{"g":"M","d":6,"t":185,"v":0.09},{"g":"M","d":6,"t":200,"v":0.12},
{"g":"M","d":7,"t":-200,"v":0.03},{"g":"M","d":7,"t":-185,"v":0.06},{"g":"M","d":7,"t":-170,"v":0.02},{"g":"M","d":7,"t":-155,"v":0.08},{"g":"M","d":7,"t":-140,"v":0.05},{"g":"M","d":7,"t":-125,"v":0.07},{"g":"M","d":7,"t":-110,"v":0.03},{"g":"M","d":7,"t":-95,"v":0.09},{"g":"M","d":7,"t":-80,"v":0.07},{"g":"M","d":7,"t":-65,"v":0.1},{"g":"M","d":7,"t":-50,"v":0.13},{"g":"M","d":7,"t":-35,"v":0.15},{"g":"M","d":7,"t":-22,"v":0.26},{"g":"M","d":7,"t":-12,"v":0.44},{"g":"M","d":7,"t":-5,"v":0.78},{"g":"M","d":7,"t":0,"v":1},{"g":"M","d":7,"t":5,"v":0.6},{"g":"M","d":7,"t":12,"v":0.43},{"g":"M","d":7,"t":22,"v":0.35},{"g":"M","d":7,"t":35,"v":0.28},{"g":"M","d":7,"t":50,"v":0.3},{"g":"M","d":7,"t":65,"v":0.22},{"g":"M","d":7,"t":80,"v":0.24},{"g":"M","d":7,"t":95,"v":0.2},{"g":"M","d":7,"t":110,"v":0.19},{"g":"M","d":7,"t":125,"v":0.14},{"g":"M","d":7,"t":140,"v":0.17},{"g":"M","d":7,"t":155,"v":0.12},{"g":"M","d":7,"t":170,"v":0.13},{"g":"M","d":7,"t":185,"v":0.1},{"g":"M","d":7,"t":200,"v":0.11},
{"g":"M","d":8,"t":-200,"v":0.05},{"g":"M","d":8,"t":-185,"v":0.02},{"g":"M","d":8,"t":-170,"v":0.07},{"g":"M","d":8,"t":-155,"v":0.03},{"g":"M","d":8,"t":-140,"v":0.06},{"g":"M","d":8,"t":-125,"v":0.1},{"g":"M","d":8,"t":-110,"v":0.04},{"g":"M","d":8,"t":-95,"v":0.08},{"g":"M","d":8,"t":-80,"v":0.11},{"g":"M","d":8,"t":-65,"v":0.07},{"g":"M","d":8,"t":-50,"v":0.14},{"g":"M","d":8,"t":-35,"v":0.18},{"g":"M","d":8,"t":-22,"v":0.25},{"g":"M","d":8,"t":-12,"v":0.45},{"g":"M","d":8,"t":-5,"v":0.8},{"g":"M","d":8,"t":0,"v":1},{"g":"M","d":8,"t":5,"v":0.62},{"g":"M","d":8,"t":12,"v":0.42},{"g":"M","d":8,"t":22,"v":0.36},{"g":"M","d":8,"t":35,"v":0.3},{"g":"M","d":8,"t":50,"v":0.25},{"g":"M","d":8,"t":65,"v":0.27},{"g":"M","d":8,"t":80,"v":0.2},{"g":"M","d":8,"t":95,"v":0.22},{"g":"M","d":8,"t":110,"v":0.15},{"g":"M","d":8,"t":125,"v":0.18},{"g":"M","d":8,"t":140,"v":0.14},{"g":"M","d":8,"t":155,"v":0.11},{"g":"M","d":8,"t":170,"v":0.12},{"g":"M","d":8,"t":185,"v":0.08},{"g":"M","d":8,"t":200,"v":0.1},
{"g":"M","d":9,"t":-200,"v":0.02},{"g":"M","d":9,"t":-185,"v":0.07},{"g":"M","d":9,"t":-170,"v":0.04},{"g":"M","d":9,"t":-155,"v":0.06},{"g":"M","d":9,"t":-140,"v":0.03},{"g":"M","d":9,"t":-125,"v":0.08},{"g":"M","d":9,"t":-110,"v":0.06},{"g":"M","d":9,"t":-95,"v":0.11},{"g":"M","d":9,"t":-80,"v":0.05},{"g":"M","d":9,"t":-65,"v":0.1},{"g":"M","d":9,"t":-50,"v":0.12},{"g":"M","d":9,"t":-35,"v":0.16},{"g":"M","d":9,"t":-22,"v":0.23},{"g":"M","d":9,"t":-12,"v":0.43},{"g":"M","d":9,"t":-5,"v":0.77},{"g":"M","d":9,"t":0,"v":1},{"g":"M","d":9,"t":5,"v":0.61},{"g":"M","d":9,"t":12,"v":0.41},{"g":"M","d":9,"t":22,"v":0.34},{"g":"M","d":9,"t":35,"v":0.29},{"g":"M","d":9,"t":50,"v":0.28},{"g":"M","d":9,"t":65,"v":0.23},{"g":"M","d":9,"t":80,"v":0.25},{"g":"M","d":9,"t":95,"v":0.18},{"g":"M","d":9,"t":110,"v":0.2},{"g":"M","d":9,"t":125,"v":0.15},{"g":"M","d":9,"t":140,"v":0.13},{"g":"M","d":9,"t":155,"v":0.16},{"g":"M","d":9,"t":170,"v":0.1},{"g":"M","d":9,"t":185,"v":0.12},{"g":"M","d":9,"t":200,"v":0.09},
{"g":"M","d":10,"t":-200,"v":0.06},{"g":"M","d":10,"t":-185,"v":0.03},{"g":"M","d":10,"t":-170,"v":0.05},{"g":"M","d":10,"t":-155,"v":0.09},{"g":"M","d":10,"t":-140,"v":0.04},{"g":"M","d":10,"t":-125,"v":0.07},{"g":"M","d":10,"t":-110,"v":0.09},{"g":"M","d":10,"t":-95,"v":0.05},{"g":"M","d":10,"t":-80,"v":0.1},{"g":"M","d":10,"t":-65,"v":0.08},{"g":"M","d":10,"t":-50,"v":0.13},{"g":"M","d":10,"t":-35,"v":0.17},{"g":"M","d":10,"t":-22,"v":0.26},{"g":"M","d":10,"t":-12,"v":0.46},{"g":"M","d":10,"t":-5,"v":0.79},{"g":"M","d":10,"t":0,"v":1},{"g":"M","d":10,"t":5,"v":0.63},{"g":"M","d":10,"t":12,"v":0.44},{"g":"M","d":10,"t":22,"v":0.33},{"g":"M","d":10,"t":35,"v":0.31},{"g":"M","d":10,"t":50,"v":0.26},{"g":"M","d":10,"t":65,"v":0.24},{"g":"M","d":10,"t":80,"v":0.21},{"g":"M","d":10,"t":95,"v":0.24},{"g":"M","d":10,"t":110,"v":0.17},{"g":"M","d":10,"t":125,"v":0.16},{"g":"M","d":10,"t":140,"v":0.14},{"g":"M","d":10,"t":155,"v":0.12},{"g":"M","d":10,"t":170,"v":0.14},{"g":"M","d":10,"t":185,"v":0.1},{"g":"M","d":10,"t":200,"v":0.12},
{"g":"M","d":11,"t":-200,"v":0.03},{"g":"M","d":11,"t":-185,"v":0.06},{"g":"M","d":11,"t":-170,"v":0.02},{"g":"M","d":11,"t":-155,"v":0.07},{"g":"M","d":11,"t":-140,"v":0.05},{"g":"M","d":11,"t":-125,"v":0.09},{"g":"M","d":11,"t":-110,"v":0.04},{"g":"M","d":11,"t":-95,"v":0.08},{"g":"M","d":11,"t":-80,"v":0.06},{"g":"M","d":11,"t":-65,"v":0.11},{"g":"M","d":11,"t":-50,"v":0.11},{"g":"M","d":11,"t":-35,"v":0.15},{"g":"M","d":11,"t":-22,"v":0.24},{"g":"M","d":11,"t":-12,"v":0.44},{"g":"M","d":11,"t":-5,"v":0.8},{"g":"M","d":11,"t":0,"v":1},{"g":"M","d":11,"t":5,"v":0.64},{"g":"M","d":11,"t":12,"v":0.42},{"g":"M","d":11,"t":22,"v":0.37},{"g":"M","d":11,"t":35,"v":0.28},{"g":"M","d":11,"t":50,"v":0.27},{"g":"M","d":11,"t":65,"v":0.25},{"g":"M","d":11,"t":80,"v":0.22},{"g":"M","d":11,"t":95,"v":0.2},{"g":"M","d":11,"t":110,"v":0.18},{"g":"M","d":11,"t":125,"v":0.15},{"g":"M","d":11,"t":140,"v":0.16},{"g":"M","d":11,"t":155,"v":0.11},{"g":"M","d":11,"t":170,"v":0.12},{"g":"M","d":11,"t":185,"v":0.09},{"g":"M","d":11,"t":200,"v":0.11},
{"g":"M","d":12,"t":-200,"v":0.05},{"g":"M","d":12,"t":-185,"v":0.02},{"g":"M","d":12,"t":-170,"v":0.06},{"g":"M","d":12,"t":-155,"v":0.04},{"g":"M","d":12,"t":-140,"v":0.08},{"g":"M","d":12,"t":-125,"v":0.03},{"g":"M","d":12,"t":-110,"v":0.09},{"g":"M","d":12,"t":-95,"v":0.06},{"g":"M","d":12,"t":-80,"v":0.11},{"g":"M","d":12,"t":-65,"v":0.07},{"g":"M","d":12,"t":-50,"v":0.12},{"g":"M","d":12,"t":-35,"v":0.18},{"g":"M","d":12,"t":-22,"v":0.27},{"g":"M","d":12,"t":-12,"v":0.47},{"g":"M","d":12,"t":-5,"v":0.82},{"g":"M","d":12,"t":0,"v":1},{"g":"M","d":12,"t":5,"v":0.66},{"g":"M","d":12,"t":12,"v":0.45},{"g":"M","d":12,"t":22,"v":0.36},{"g":"M","d":12,"t":35,"v":0.3},{"g":"M","d":12,"t":50,"v":0.28},{"g":"M","d":12,"t":65,"v":0.24},{"g":"M","d":12,"t":80,"v":0.26},{"g":"M","d":12,"t":95,"v":0.2},{"g":"M","d":12,"t":110,"v":0.17},{"g":"M","d":12,"t":125,"v":0.19},{"g":"M","d":12,"t":140,"v":0.13},{"g":"M","d":12,"t":155,"v":0.15},{"g":"M","d":12,"t":170,"v":0.1},{"g":"M","d":12,"t":185,"v":0.12},{"g":"M","d":12,"t":200,"v":0.09}
]
},
"spacing":14.5,
"hconcat":[
{
 "bounds":"flush","spacing":20.7,
 "hconcat":[
  {"width":50,"height":190,
   "resolve":{"scale":{"y":"independent"}},
   "layer":[
    {"layer":[
      {"data":{"name":"tr"},"transform":[{"filter":"datum.g=='D' && datum.d==1"}],"mark":{"type":"line","color":"#9ca77f","strokeWidth":1,"clip":false},"encoding":{"x":{"field":"t","type":"quantitative","scale":{"domain":[-200,200]},"axis":{"values":[-200,-100,0,100,200],"tickCount":20,"labelExpr":"datum.value == -200 ? '-200' : datum.value == 0 ? '0' : datum.value == 200 ? '200' : ''","title":"Time lag (ms)"}},"y":{"field":"v","type":"quantitative","scale":{"domain":[-0.465,7.796]},"axis":null}}},
      {"data":{"values":[{}]},"mark":{"type":"text","align":"center","baseline":"middle","fontSize":9.5,"color":"#111","clip":false},"encoding":{"x":{"datum":0,"type":"quantitative"},"y":{"datum":8.326,"type":"quantitative"},"text":{"value":"DLS"}}}
    ]},
    {"data":{"name":"tr"},"transform":[{"filter":"datum.g=='D' && datum.d==2"}],"mark":{"type":"line","color":"#9ca77f","strokeWidth":1,"clip":false},"encoding":{"x":{"field":"t","type":"quantitative"},"y":{"field":"v","type":"quantitative","scale":{"domain":[-1.0867,7.1743]},"axis":null}}},
    {"data":{"name":"tr"},"transform":[{"filter":"datum.g=='D' && datum.d==3"}],"mark":{"type":"line","color":"#9ca77f","strokeWidth":1,"clip":false},"encoding":{"x":{"field":"t","type":"quantitative"},"y":{"field":"v","type":"quantitative","scale":{"domain":[-1.7084,6.5526]},"axis":null}}},
    {"data":{"name":"tr"},"transform":[{"filter":"datum.g=='D' && datum.d==4"}],"mark":{"type":"line","color":"#9ca77f","strokeWidth":1,"clip":false},"encoding":{"x":{"field":"t","type":"quantitative"},"y":{"field":"v","type":"quantitative","scale":{"domain":[-2.3301,5.9309]},"axis":null}}},
    {"data":{"name":"tr"},"transform":[{"filter":"datum.g=='D' && datum.d==5"}],"mark":{"type":"line","color":"#9ca77f","strokeWidth":1,"clip":false},"encoding":{"x":{"field":"t","type":"quantitative"},"y":{"field":"v","type":"quantitative","scale":{"domain":[-2.9518,5.3092]},"axis":null}}},
    {"data":{"name":"tr"},"transform":[{"filter":"datum.g=='D' && datum.d==6"}],"mark":{"type":"line","color":"#9ca77f","strokeWidth":1,"clip":false},"encoding":{"x":{"field":"t","type":"quantitative"},"y":{"field":"v","type":"quantitative","scale":{"domain":[-3.5735,4.6875]},"axis":null}}},
    {"data":{"name":"tr"},"transform":[{"filter":"datum.g=='D' && datum.d==7"}],"mark":{"type":"line","color":"#9ca77f","strokeWidth":1,"clip":false},"encoding":{"x":{"field":"t","type":"quantitative"},"y":{"field":"v","type":"quantitative","scale":{"domain":[-4.1952,4.0658]},"axis":null}}},
    {"data":{"name":"tr"},"transform":[{"filter":"datum.g=='D' && datum.d==8"}],"mark":{"type":"line","color":"#9ca77f","strokeWidth":1,"clip":false},"encoding":{"x":{"field":"t","type":"quantitative"},"y":{"field":"v","type":"quantitative","scale":{"domain":[-4.8169,3.4441]},"axis":null}}},
    {"data":{"name":"tr"},"transform":[{"filter":"datum.g=='D' && datum.d==9"}],"mark":{"type":"line","color":"#9ca77f","strokeWidth":1,"clip":false},"encoding":{"x":{"field":"t","type":"quantitative"},"y":{"field":"v","type":"quantitative","scale":{"domain":[-5.4386,2.8224]},"axis":null}}},
    {"data":{"name":"tr"},"transform":[{"filter":"datum.g=='D' && datum.d==10"}],"mark":{"type":"line","color":"#9ca77f","strokeWidth":1,"clip":false},"encoding":{"x":{"field":"t","type":"quantitative"},"y":{"field":"v","type":"quantitative","scale":{"domain":[-6.0603,2.2007]},"axis":null}}},
    {"data":{"name":"tr"},"transform":[{"filter":"datum.g=='D' && datum.d==11"}],"mark":{"type":"line","color":"#9ca77f","strokeWidth":1,"clip":false},"encoding":{"x":{"field":"t","type":"quantitative"},"y":{"field":"v","type":"quantitative","scale":{"domain":[-6.682,1.579]},"axis":null}}},
    {"data":{"name":"tr"},"transform":[{"filter":"datum.g=='D' && datum.d==12"}],"mark":{"type":"line","color":"#9ca77f","strokeWidth":1,"clip":false},"encoding":{"x":{"field":"t","type":"quantitative"},"y":{"field":"v","type":"quantitative","scale":{"domain":[-7.3037,0.9573]},"axis":null}}}
   ]},
  {"width":50,"height":190,
   "resolve":{"scale":{"y":"independent"}},
   "layer":[
    {"layer":[
      {"data":{"name":"tr"},"transform":[{"filter":"datum.g=='M' && datum.d==1"}],"mark":{"type":"line","color":"#f0923f","strokeWidth":1,"clip":false},"encoding":{"x":{"field":"t","type":"quantitative","scale":{"domain":[-200,200]},"axis":{"values":[-200,-100,0,100,200],"tickCount":20,"labelExpr":"datum.value == -200 ? '-200' : datum.value == 0 ? '0' : datum.value == 200 ? '200' : ''","title":"Time lag (ms)"}},"y":{"field":"v","type":"quantitative","scale":{"domain":[-0.465,7.796]},"axis":null}}},
      {"data":{"values":[{}]},"mark":{"type":"rule","color":"#222","strokeWidth":0.8,"clip":false},"encoding":{"x":{"datum":300,"type":"quantitative"},"y":{"datum":2.144,"type":"quantitative"},"y2":{"datum":5.2}}},
      {"data":{"values":[{}]},"mark":{"type":"point","shape":"triangle-up","filled":true,"size":16,"color":"#222","opacity":1,"clip":false},"encoding":{"x":{"datum":300,"type":"quantitative"},"y":{"datum":5.27,"type":"quantitative"}}},
      {"data":{"values":[{}]},"mark":{"type":"text","angle":90,"fontSize":8.5,"color":"#111","clip":false},"encoding":{"x":{"datum":355,"type":"quantitative"},"y":{"datum":3.8,"type":"quantitative"},"text":{"value":"Days"}}},
      {"data":{"values":[{}]},"mark":{"type":"text","align":"center","baseline":"middle","fontSize":9.5,"color":"#111","clip":false},"encoding":{"x":{"datum":0,"type":"quantitative"},"y":{"datum":8.326,"type":"quantitative"},"text":{"value":"MC"}}},
      {"data":{"values":[{}]},"mark":{"type":"text","align":"left","baseline":"alphabetic","fontSize":13,"fontWeight":"bold","color":"#000","clip":false},"encoding":{"x":{"datum":-832,"type":"quantitative"},"y":{"datum":8.305,"type":"quantitative"},"text":{"value":"A"}}}
    ]},
    {"data":{"name":"tr"},"transform":[{"filter":"datum.g=='M' && datum.d==2"}],"mark":{"type":"line","color":"#f0923f","strokeWidth":1,"clip":false},"encoding":{"x":{"field":"t","type":"quantitative"},"y":{"field":"v","type":"quantitative","scale":{"domain":[-1.0867,7.1743]},"axis":null}}},
    {"data":{"name":"tr"},"transform":[{"filter":"datum.g=='M' && datum.d==3"}],"mark":{"type":"line","color":"#f0923f","strokeWidth":1,"clip":false},"encoding":{"x":{"field":"t","type":"quantitative"},"y":{"field":"v","type":"quantitative","scale":{"domain":[-1.7084,6.5526]},"axis":null}}},
    {"data":{"name":"tr"},"transform":[{"filter":"datum.g=='M' && datum.d==4"}],"mark":{"type":"line","color":"#f0923f","strokeWidth":1,"clip":false},"encoding":{"x":{"field":"t","type":"quantitative"},"y":{"field":"v","type":"quantitative","scale":{"domain":[-2.3301,5.9309]},"axis":null}}},
    {"data":{"name":"tr"},"transform":[{"filter":"datum.g=='M' && datum.d==5"}],"mark":{"type":"line","color":"#f0923f","strokeWidth":1,"clip":false},"encoding":{"x":{"field":"t","type":"quantitative"},"y":{"field":"v","type":"quantitative","scale":{"domain":[-2.9518,5.3092]},"axis":null}}},
    {"data":{"name":"tr"},"transform":[{"filter":"datum.g=='M' && datum.d==6"}],"mark":{"type":"line","color":"#f0923f","strokeWidth":1,"clip":false},"encoding":{"x":{"field":"t","type":"quantitative"},"y":{"field":"v","type":"quantitative","scale":{"domain":[-3.5735,4.6875]},"axis":null}}},
    {"data":{"name":"tr"},"transform":[{"filter":"datum.g=='M' && datum.d==7"}],"mark":{"type":"line","color":"#f0923f","strokeWidth":1,"clip":false},"encoding":{"x":{"field":"t","type":"quantitative"},"y":{"field":"v","type":"quantitative","scale":{"domain":[-4.1952,4.0658]},"axis":null}}},
    {"data":{"name":"tr"},"transform":[{"filter":"datum.g=='M' && datum.d==8"}],"mark":{"type":"line","color":"#f0923f","strokeWidth":1,"clip":false},"encoding":{"x":{"field":"t","type":"quantitative"},"y":{"field":"v","type":"quantitative","scale":{"domain":[-4.8169,3.4441]},"axis":null}}},
    {"data":{"name":"tr"},"transform":[{"filter":"datum.g=='M' && datum.d==9"}],"mark":{"type":"line","color":"#f0923f","strokeWidth":1,"clip":false},"encoding":{"x":{"field":"t","type":"quantitative"},"y":{"field":"v","type":"quantitative","scale":{"domain":[-5.4386,2.8224]},"axis":null}}},
    {"data":{"name":"tr"},"transform":[{"filter":"datum.g=='M' && datum.d==10"}],"mark":{"type":"line","color":"#f0923f","strokeWidth":1,"clip":false},"encoding":{"x":{"field":"t","type":"quantitative"},"y":{"field":"v","type":"quantitative","scale":{"domain":[-6.0603,2.2007]},"axis":null}}},
    {"data":{"name":"tr"},"transform":[{"filter":"datum.g=='M' && datum.d==11"}],"mark":{"type":"line","color":"#f0923f","strokeWidth":1,"clip":false},"encoding":{"x":{"field":"t","type":"quantitative"},"y":{"field":"v","type":"quantitative","scale":{"domain":[-6.682,1.579]},"axis":null}}},
    {"data":{"name":"tr"},"transform":[{"filter":"datum.g=='M' && datum.d==12"}],"mark":{"type":"line","color":"#f0923f","strokeWidth":1,"clip":false},"encoding":{"x":{"field":"t","type":"quantitative"},"y":{"field":"v","type":"quantitative","scale":{"domain":[-7.3037,0.9573]},"axis":null}}}
   ]}
 ]
},
{
 "spacing":11,
 "hconcat":[
  {
   "bounds":"flush","columns":3,"spacing":{"row":44.3,"column":22.5},
   "concat":[
    {"width":72.5,"height":73,"layer":[
      {"data":{"name":"sc"},"transform":[{"filter":"datum.g=='D' && datum.k==1"}],"mark":{"type":"circle","size":18,"opacity":0.55,"color":"#6f9142"},
       "encoding":{"x":{"field":"x","type":"quantitative","scale":{"domain":[0,4]},"axis":{"values":[0,1,2,3,4],"tickCount":20,"format":"d","title":null}},"y":{"field":"y","type":"quantitative","scale":{"domain":[0,4]},"axis":{"values":[0,1,2,3,4],"tickCount":20,"format":"d","title":"Correlogram amplitude (normalized)","titleY":97,"titlePadding":5}}}},
      {"data":{"name":"diag"},"mark":{"type":"line","strokeDash":[2,1.5],"color":"#333","strokeWidth":0.6},"encoding":{"x":{"field":"x","type":"quantitative"},"y":{"field":"y","type":"quantitative"}}},
      {"data":{"values":[{}]},"mark":{"type":"text","align":"left","baseline":"middle","fontSize":8,"color":"#111"},"encoding":{"x":{"datum":0.45},"y":{"datum":3.8},"text":{"value":"r² = 0.95"}}},
      {"data":{"values":[{}]},"mark":{"type":"text","align":"center","baseline":"middle","fontSize":9.5,"color":"#111","clip":false},"encoding":{"x":{"datum":2,"type":"quantitative"},"y":{"datum":4.712,"type":"quantitative"},"text":{"value":"Day 1"}}},
      {"data":{"values":[{}]},"mark":{"type":"text","align":"left","baseline":"alphabetic","fontSize":13,"fontWeight":"bold","color":"#000","clip":false},"encoding":{"x":{"datum":-1.379,"type":"quantitative"},"y":{"datum":4.696,"type":"quantitative"},"text":{"value":"B"}}}]},
    {"width":72.5,"height":73,"layer":[
      {"data":{"name":"sc"},"transform":[{"filter":"datum.g=='D' && datum.k==5"}],"mark":{"type":"circle","size":18,"opacity":0.55,"color":"#6f9142"},
       "encoding":{"x":{"field":"x","type":"quantitative","scale":{"domain":[0,4]},"axis":{"values":[0,1,2,3,4],"tickCount":20,"format":"d","title":"Correlogram amplitude (normalized) on Day 0","titlePadding":2}},"y":{"field":"y","type":"quantitative","scale":{"domain":[0,4]},"axis":{"values":[0,1,2,3,4],"tickCount":20,"format":"d","title":null}}}},
      {"data":{"name":"diag"},"mark":{"type":"line","strokeDash":[2,1.5],"color":"#333","strokeWidth":0.6},"encoding":{"x":{"field":"x","type":"quantitative"},"y":{"field":"y","type":"quantitative"}}},
      {"data":{"values":[{}]},"mark":{"type":"text","align":"left","baseline":"middle","fontSize":8,"color":"#111"},"encoding":{"x":{"datum":0.45},"y":{"datum":3.8},"text":{"value":"r² = 0.92"}}},
      {"data":{"values":[{}]},"mark":{"type":"text","align":"center","baseline":"middle","fontSize":9.5,"color":"#111","clip":false},"encoding":{"x":{"datum":2,"type":"quantitative"},"y":{"datum":4.712,"type":"quantitative"},"text":{"value":"Day 5"}}}]},
    {"width":72.5,"height":73,"layer":[
      {"data":{"name":"sc"},"transform":[{"filter":"datum.g=='D' && datum.k==10"}],"mark":{"type":"circle","size":18,"opacity":0.55,"color":"#6f9142"},
       "encoding":{"x":{"field":"x","type":"quantitative","scale":{"domain":[0,4]},"axis":{"values":[0,1,2,3,4],"tickCount":20,"format":"d","title":null}},"y":{"field":"y","type":"quantitative","scale":{"domain":[0,4]},"axis":{"values":[0,1,2,3,4],"tickCount":20,"format":"d","title":null}}}},
      {"data":{"name":"diag"},"mark":{"type":"line","strokeDash":[2,1.5],"color":"#333","strokeWidth":0.6},"encoding":{"x":{"field":"x","type":"quantitative"},"y":{"field":"y","type":"quantitative"}}},
      {"data":{"values":[{}]},"mark":{"type":"text","align":"left","baseline":"middle","fontSize":8,"color":"#111"},"encoding":{"x":{"datum":0.45},"y":{"datum":3.8},"text":{"value":"r² = 0.89"}}},
      {"data":{"values":[{}]},"mark":{"type":"text","align":"center","baseline":"middle","fontSize":9.5,"color":"#111","clip":false},"encoding":{"x":{"datum":2,"type":"quantitative"},"y":{"datum":4.712,"type":"quantitative"},"text":{"value":"Day 10"}}}]},
    {"width":72.5,"height":73,"layer":[
      {"data":{"name":"sc"},"transform":[{"filter":"datum.g=='M' && datum.k==1"}],"mark":{"type":"circle","size":13,"opacity":0.55,"color":"#e8771c"},
       "encoding":{"x":{"field":"x","type":"quantitative","scale":{"domain":[0,4]},"axis":{"values":[0,1,2,3,4],"tickCount":20,"format":"d","title":null}},"y":{"field":"y","type":"quantitative","scale":{"domain":[0,4]},"axis":{"values":[0,1,2,3,4],"tickCount":20,"format":"d","title":null}}}},
      {"data":{"name":"diag"},"mark":{"type":"line","strokeDash":[2,1.5],"color":"#333","strokeWidth":0.6},"encoding":{"x":{"field":"x","type":"quantitative"},"y":{"field":"y","type":"quantitative"}}},
      {"data":{"values":[{}]},"mark":{"type":"text","align":"left","baseline":"middle","fontSize":8,"color":"#111"},"encoding":{"x":{"datum":0.45},"y":{"datum":3.8},"text":{"value":"r² = 0.97"}}},
      {"data":{"values":[{}]},"mark":{"type":"text","align":"center","baseline":"middle","fontSize":9.5,"color":"#111","clip":false},"encoding":{"x":{"datum":2,"type":"quantitative"},"y":{"datum":4.712,"type":"quantitative"},"text":{"value":"Day 1"}}}]},
    {"width":72.5,"height":73,"layer":[
      {"data":{"name":"sc"},"transform":[{"filter":"datum.g=='M' && datum.k==5"}],"mark":{"type":"circle","size":13,"opacity":0.55,"color":"#e8771c"},
       "encoding":{"x":{"field":"x","type":"quantitative","scale":{"domain":[0,4]},"axis":{"values":[0,1,2,3,4],"tickCount":20,"format":"d","title":"Correlogram amplitude (normalized) on Day 0","titlePadding":2}},"y":{"field":"y","type":"quantitative","scale":{"domain":[0,4]},"axis":{"values":[0,1,2,3,4],"tickCount":20,"format":"d","title":null}}}},
      {"data":{"name":"diag"},"mark":{"type":"line","strokeDash":[2,1.5],"color":"#333","strokeWidth":0.6},"encoding":{"x":{"field":"x","type":"quantitative"},"y":{"field":"y","type":"quantitative"}}},
      {"data":{"values":[{}]},"mark":{"type":"text","align":"left","baseline":"middle","fontSize":8,"color":"#111"},"encoding":{"x":{"datum":0.45},"y":{"datum":3.8},"text":{"value":"r² = 0.96"}}},
      {"data":{"values":[{}]},"mark":{"type":"text","align":"center","baseline":"middle","fontSize":9.5,"color":"#111","clip":false},"encoding":{"x":{"datum":2,"type":"quantitative"},"y":{"datum":4.712,"type":"quantitative"},"text":{"value":"Day 5"}}}]},
    {"width":72.5,"height":73,"layer":[
      {"data":{"name":"sc"},"transform":[{"filter":"datum.g=='M' && datum.k==10"}],"mark":{"type":"circle","size":13,"opacity":0.55,"color":"#e8771c"},
       "encoding":{"x":{"field":"x","type":"quantitative","scale":{"domain":[0,4]},"axis":{"values":[0,1,2,3,4],"tickCount":20,"format":"d","title":null}},"y":{"field":"y","type":"quantitative","scale":{"domain":[0,4]},"axis":{"values":[0,1,2,3,4],"tickCount":20,"format":"d","title":null}}}},
      {"data":{"name":"diag"},"mark":{"type":"line","strokeDash":[2,1.5],"color":"#333","strokeWidth":0.6},"encoding":{"x":{"field":"x","type":"quantitative"},"y":{"field":"y","type":"quantitative"}}},
      {"data":{"values":[{}]},"mark":{"type":"text","align":"left","baseline":"middle","fontSize":8,"color":"#111"},"encoding":{"x":{"datum":0.45},"y":{"datum":3.8},"text":{"value":"r² = 0.96"}}},
      {"data":{"values":[{}]},"mark":{"type":"text","align":"center","baseline":"middle","fontSize":9.5,"color":"#111","clip":false},"encoding":{"x":{"datum":2,"type":"quantitative"},"y":{"datum":4.712,"type":"quantitative"},"text":{"value":"Day 10"}}}]}
   ]
  },
  {
   "bounds":"flush","spacing":46.7,
   "vconcat":[
    {"width":89,"height":69,"layer":[
      {"data":{"name":"sim"},"transform":[{"filter":"datum.g=='D'"}],"mark":{"type":"area","color":"#c3cfae","opacity":1},"encoding":{"x":{"field":"t","type":"quantitative","scale":{"domain":[1,10]},"axis":{"values":[1,2,3,4,5,6,7,8,9,10],"tickCount":20,"format":"d","labelExpr":"datum.value % 2 == 0 ? datum.label : ''","title":"Time lag (days)"}},"y":{"field":"lo","type":"quantitative","scale":{"domain":[0,1]},"axis":{"values":[0,0.2,0.4,0.6,0.8,1],"tickCount":20,"format":".1f","title":"Correlogram similarity"}},"y2":{"field":"hi"}}},
      {"data":{"name":"sim"},"transform":[{"filter":"datum.g=='D'"}],"mark":{"type":"line","color":"#2e3a27","strokeWidth":1},"encoding":{"x":{"field":"t","type":"quantitative"},"y":{"field":"m","type":"quantitative"}}},
      {"data":{"values":[{}]},"mark":{"type":"text","align":"left","baseline":"alphabetic","fontSize":13,"fontWeight":"bold","color":"#000","clip":false},"encoding":{"x":{"datum":-2.438,"type":"quantitative"},"y":{"datum":1.184,"type":"quantitative"},"text":{"value":"C"}}}]},
    {"width":89,"height":69,"layer":[
      {"data":{"name":"sim"},"transform":[{"filter":"datum.g=='M'"}],"mark":{"type":"area","color":"#f9cc9e","opacity":1},"encoding":{"x":{"field":"t","type":"quantitative","scale":{"domain":[1,10]},"axis":{"values":[1,2,3,4,5,6,7,8,9,10],"tickCount":20,"format":"d","labelExpr":"datum.value % 2 == 0 ? datum.label : ''","title":"Time lag (days)"}},"y":{"field":"lo","type":"quantitative","scale":{"domain":[0,1]},"axis":{"values":[0,0.2,0.4,0.6,0.8,1],"tickCount":20,"format":".1f","title":"Correlogram similarity"}},"y2":{"field":"hi"}}},
      {"data":{"name":"sim"},"transform":[{"filter":"datum.g=='M'"}],"mark":{"type":"line","color":"#3a2a1e","strokeWidth":1},"encoding":{"x":{"field":"t","type":"quantitative"},"y":{"field":"m","type":"quantitative"}}}]}
   ]
  }
 ]
}
]
}
